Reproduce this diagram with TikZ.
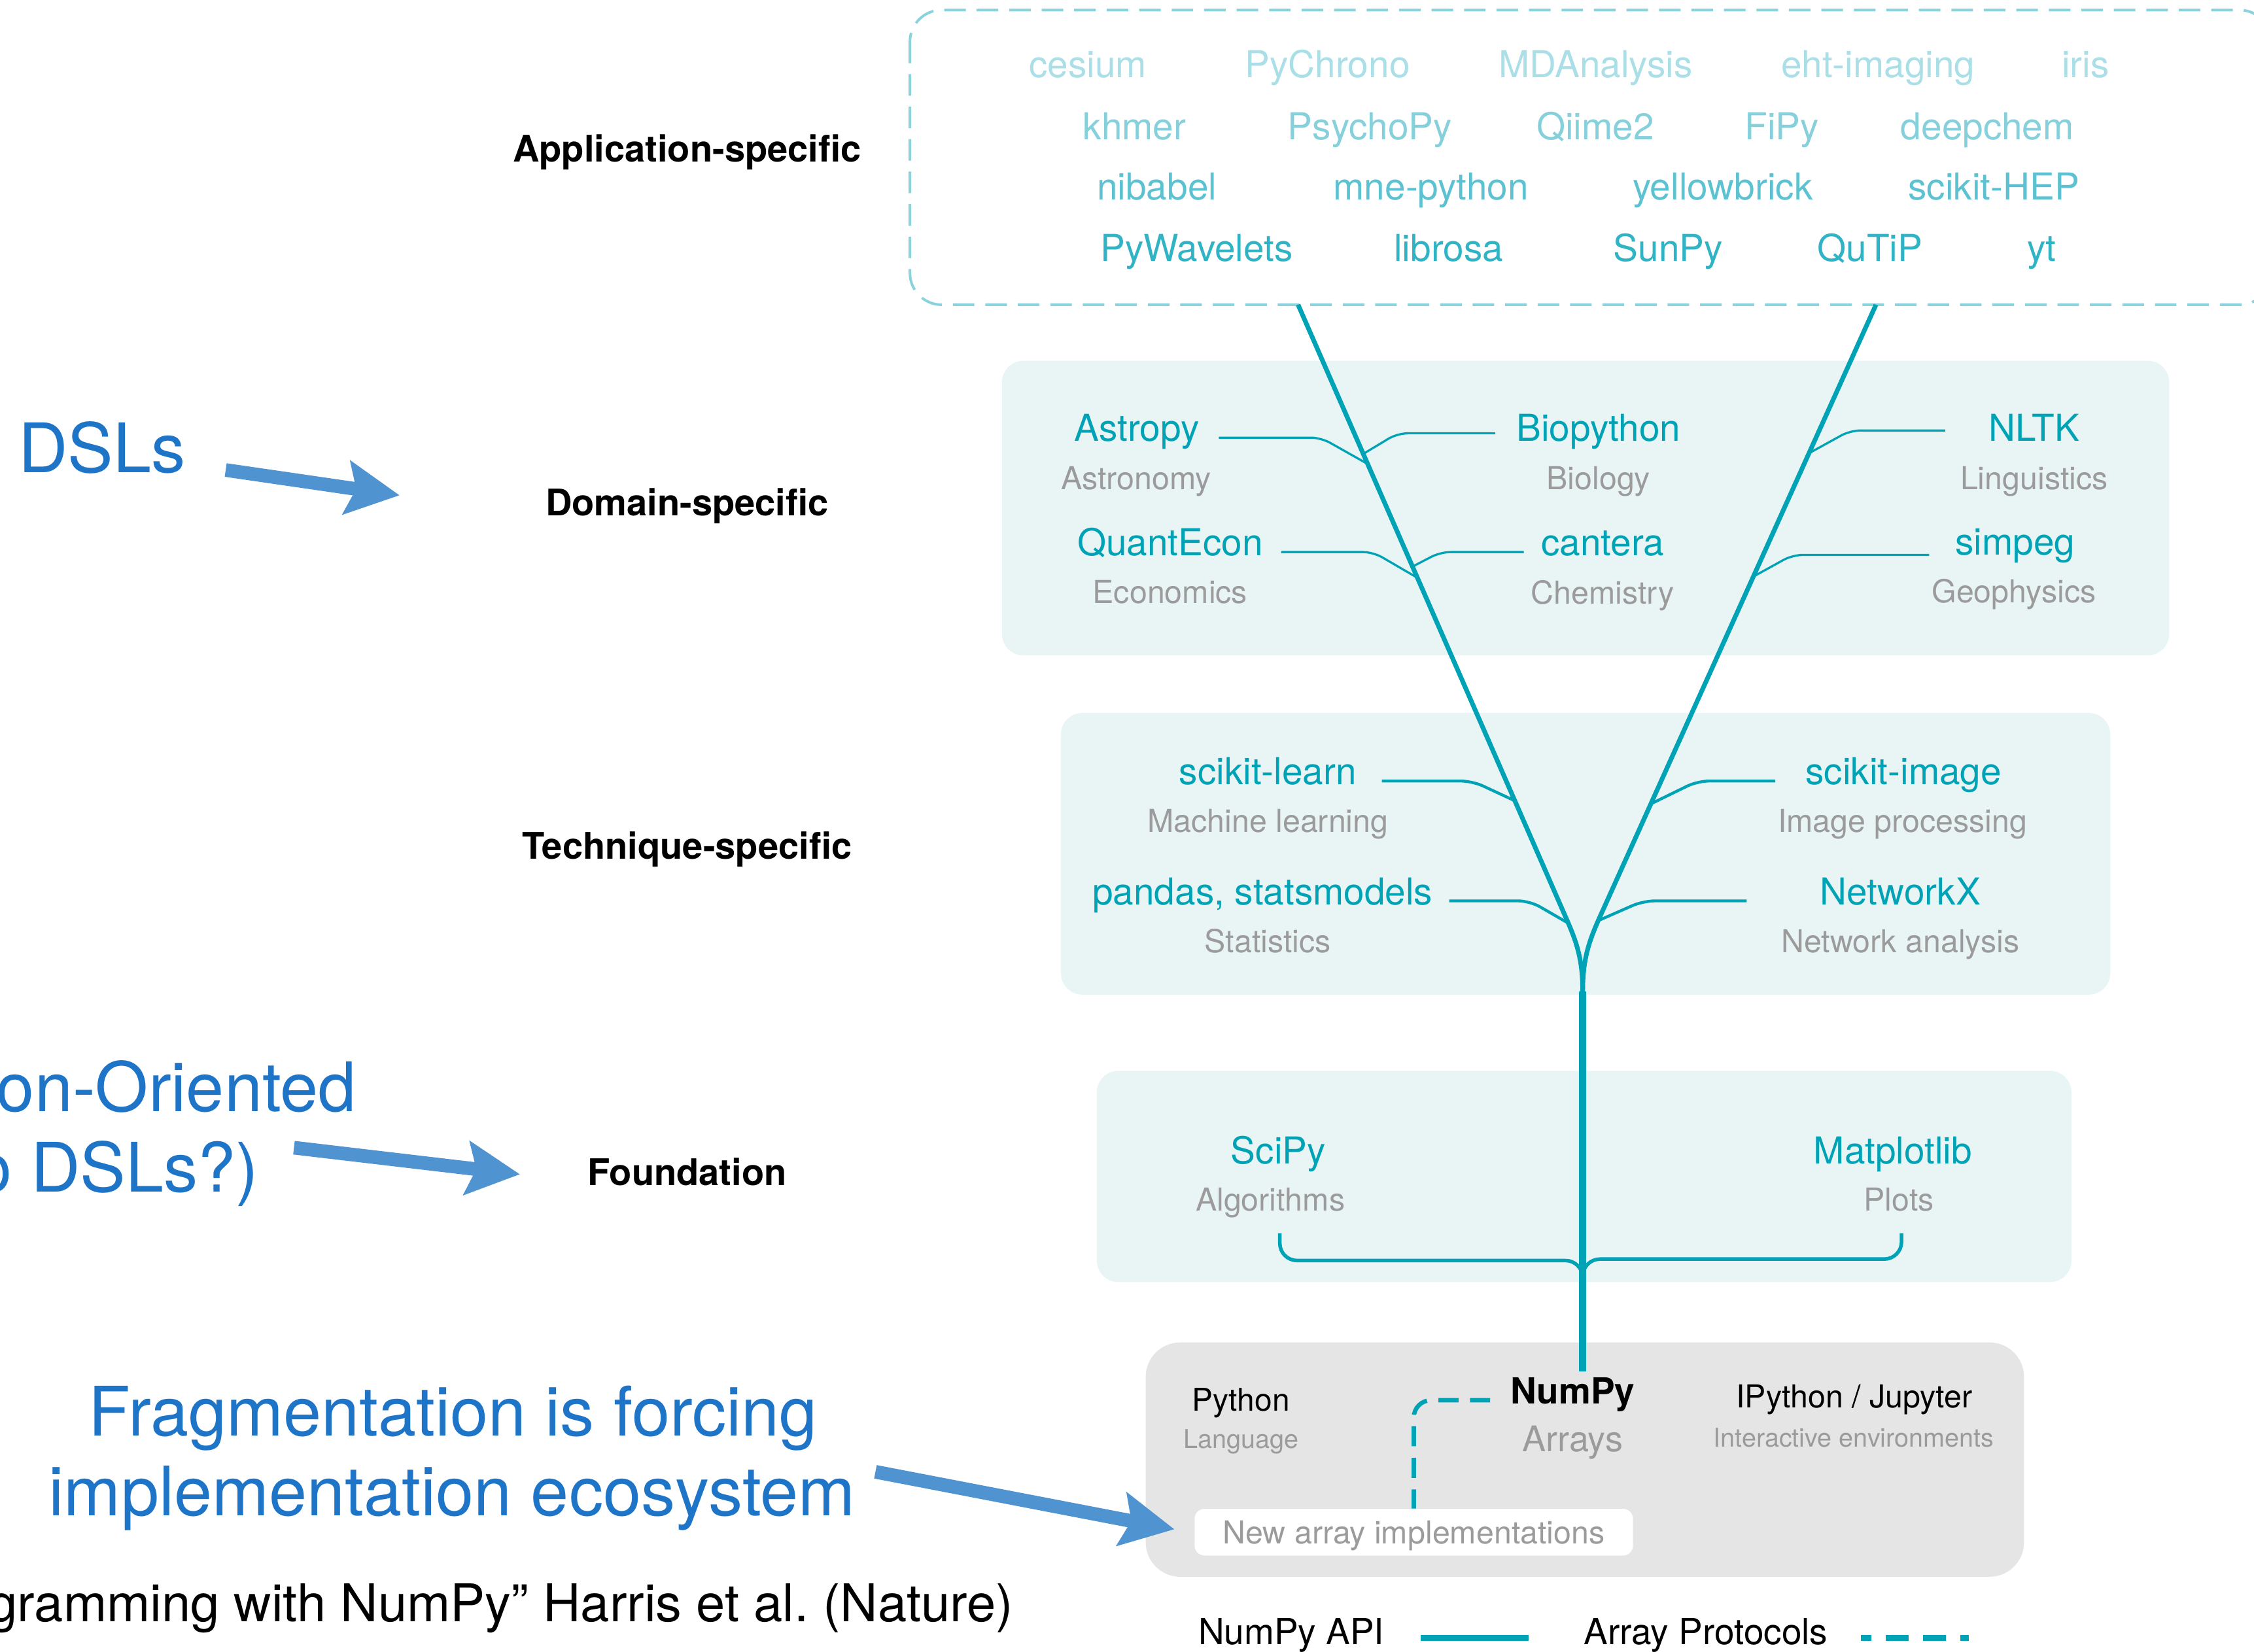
\documentclass[tikz,border=0pt]{standalone}
\usepackage{fontspec}
\setmainfont{TeX Gyre Heros}
\usetikzlibrary{arrows.meta}

\definecolor{npteal}{RGB}{0,163,181}
\definecolor{apprim}{RGB}{138,211,221}
\definecolor{appA}{RGB}{170,223,231}
\definecolor{appB}{RGB}{134,208,219}
\definecolor{appC}{RGB}{92,194,209}
\definecolor{appD}{RGB}{48,179,196}
\definecolor{layerfill}{RGB}{233,245,245}
\definecolor{basefill}{RGB}{229,229,229}
\definecolor{descgray}{RGB}{155,155,155}
\definecolor{noteblue}{RGB}{30,117,199}
\definecolor{arrowblue}{RGB}{80,147,209}

\begin{document}
\begin{tikzpicture}[x=1pt, y=-1pt,
  every node/.style={inner sep=0pt, anchor=base},
  app/.style={font=\fontsize{25.8}{30}\selectfont},
  pkg/.style={font=\fontsize{25.8}{30}\selectfont, text=npteal},
  desc/.style={font=\fontsize{22}{26}\selectfont, text=descgray},
  layer/.style={font=\bfseries\fontsize{25.5}{30}\selectfont},
  note/.style={font=\fontsize{47.5}{56}\selectfont, text=noteblue},
  appframe/.style={draw=apprim, line width=1.8pt, dash pattern=on 15pt off 7.6pt, rounded corners=22pt},
  layerbox/.style={fill=layerfill, rounded corners=15pt},
  basebox/.style={fill=basefill, rounded corners=24pt},
  newbox/.style={fill=white, rounded corners=7pt, minimum width=305pt, minimum height=32.5pt,
    text height=16pt, text depth=0pt, anchor=center, font=\fontsize{22}{26}\selectfont, text=descgray},
  trunk/.style={draw=npteal, line width=4.8pt},
  branch/.style={draw=npteal, line width=3.2pt},
  twig/.style={draw=npteal, line width=1.5pt, rounded corners=7pt},
  twigB/.style={draw=npteal, line width=2pt, rounded corners=8pt},
  stem/.style={draw=npteal, line width=2.5pt, rounded corners=12pt},
  protocol/.style={draw=npteal, line width=3pt, dash pattern=on 14pt off 8pt, rounded corners=12pt},
  hint/.style={draw=arrowblue, line width=9.5pt, arrows={-{Stealth[length=37pt,width=37pt,inset=6.5pt]}}}]

\path[use as bounding box, fill=white] (0,0) rectangle (1568,1149);

% layer backgrounds
\draw[appframe] (633,7) rectangle (1580,212);
\path[layerbox] (697,251) rectangle (1509,456);
\path[layerbox] (738,496) rectangle (1468,692);
\path[layerbox] (763,745) rectangle (1441,892);
\path[basebox] (797,934) rectangle (1408,1097);

% layer names
\node[layer] (applabel) at (478,112.5) {Application-specific};
\node[layer] (domlabel) at (478,358.6) {Domain-specific};
\node[layer] (techlabel) at (478,597.5) {Technique-specific};
\node[layer] (foundlabel) at (478,824.5) {Foundation};

% application-specific packages
\node[app, text=appA] (cesium) at (756.8,54) {cesium};
\node[app, text=appA] (pychrono) at (923.5,54) {PyChrono};
\node[app, text=appA] (mdanalysis) at (1110,54) {MDAnalysis};
\node[app, text=appA] (ehtimaging) at (1306.4,54) {eht-imaging};
\node[app, text=appA] (iris) at (1450.8,54) {iris};
\node[app, text=appB] (khmer) at (789.2,97) {khmer};
\node[app, text=appB] (psychopy) at (953,97) {PsychoPy};
\node[app, text=appB] (qiime) at (1109.7,97) {Qiime2};
\node[app, text=appB] (fipy) at (1239.5,97) {FiPy};
\node[app, text=appB] (deepchem) at (1382.5,97) {deepchem};
\node[app, text=appC] (nibabel) at (804.8,139) {nibabel};
\node[app, text=appC] (mnepython) at (995.5,139) {mne-python};
\node[app, text=appC] (yellowbrick) at (1198.4,139) {yellowbrick};
\node[app, text=appC] (scikithep) at (1387,139) {scikit-HEP};
\node[app, text=appD] (pywavelets) at (832.4,182) {PyWavelets};
\node[app, text=appD] (librosa) at (1007.7,182) {librosa};
\node[app, text=appD] (sunpy) at (1160.4,182) {SunPy};
\node[app, text=appD] (qutip) at (1300.9,182) {QuTiP};
\node[app, text=appD] (yt) at (1420.3,182) {yt};

% domain-specific
\node[pkg] (astropy) at (790.8,307.1) {Astropy};
\node[desc] (astronomy) at (790.3,340.5) {Astronomy};
\node[pkg] (biopython) at (1112,307.1) {Biopython};
\node[desc] (biology) at (1112,340.5) {Biology};
\node[pkg] (nltk) at (1415,307.1) {NLTK};
\node[desc] (linguistics) at (1415,340.5) {Linguistics};
\node[pkg] (quantecon) at (814,386.7) {QuantEcon};
\node[desc] (economics) at (814,419.8) {Economics};
\node[pkg] (cantera) at (1115,386.7) {cantera};
\node[desc] (chemistry) at (1114.8,420.3) {Chemistry};
\node[pkg] (simpeg) at (1401.8,385.9) {simpeg};
\node[desc] (geophysics) at (1401,419.3) {Geophysics};

% technique-specific
\node[pkg] (sklearn) at (882,546) {scikit-learn};
\node[desc] (machine) at (882,579) {Machine learning};
\node[pkg] (pandas) at (878.3,629.4) {pandas, statsmodels};
\node[desc] (statistics) at (882,662.7) {Statistics};
\node[pkg] (skimage) at (1324.2,546) {scikit-image};
\node[desc] (imageproc) at (1323.5,579) {Image processing};
\node[pkg] (networkx) at (1322,629.4) {NetworkX};
\node[desc] (netanalysis) at (1322,662.7) {Network analysis};

% foundation
\node[pkg] (scipy) at (889.3,809.5) {SciPy};
\node[desc] (algorithms) at (883.7,842.4) {Algorithms};
\node[pkg] (matplotlib) at (1316.8,809.5) {Matplotlib};
\node[desc] (plots) at (1321,842.4) {Plots};

% core
\node[font=\fontsize{21.8}{26}\selectfont] (python) at (863.3,981.8) {Python};
\node[font=\fontsize{18}{22}\selectfont, text=descgray] (language) at (863.3,1007.7) {Language};
\node[font=\bfseries\fontsize{25}{30}\selectfont] (numpy) at (1094,976.8) {NumPy};
\node[font=\fontsize{24.6}{30}\selectfont, text=descgray] (arrays) at (1094,1010) {Arrays};
\node[font=\fontsize{22}{26}\selectfont] (ipython) at (1290,979.6) {IPython / Jupyter};
\node[font=\fontsize{18}{22}\selectfont, text=descgray] (interactive) at (1289.5,1006.7) {Interactive environments};
\node[newbox] (newimpl) at (983.5,1066) {New array implementations};

% the tree
\coordinate (root) at (1101,954);
\coordinate (fork) at (1101,690);
\coordinate (appL) at (903,212);
\coordinate (appR) at (1305,212);
\draw[trunk] (root) -- (fork);
\draw[branch] (fork) .. controls (1101,668) and (1097,656) .. (1090,640) -- (appL);
\draw[branch] (fork) .. controls (1101,668) and (1105,656) .. (1112,640) -- (appR);

\coordinate (jAstro) at (950,322);
\coordinate (jBio) at (948,316);
\coordinate (jQuant) at (986,402);
\coordinate (jCant) at (983,394);
\coordinate (jNltk) at (1259,315);
\coordinate (jSimpeg) at (1220,401);
\coordinate (jSkl) at (1053.5,557);
\coordinate (jPandas) at (1090.5,642);
\coordinate (jSki) at (1149,559);
\coordinate (jNx) at (1113,640);
\coordinate (fjoin) at (1101,892);

\draw[twig] ([xshift=13.5pt]astropy.mid east) -- ++(71,0) -- (jAstro);
\draw[twig] ([xshift=-14.6pt,yshift=3pt]biopython.mid west) -- ++(-68,0) -- (jBio);
\draw[twig] ([xshift=12.5pt]quantecon.mid east) -- ++(64,0) -- (jQuant);
\draw[twig] ([xshift=-12pt]cantera.mid west) -- ++(-58,0) -- (jCant);
\draw[twig] ([xshift=-30pt,yshift=5pt]nltk.mid west) -- ++(-66,0) -- (jNltk);
\draw[twig] ([xshift=-18pt,yshift=-2.8pt]simpeg.mid west) -- ++(-95,0) -- (jSimpeg);
\draw[twigB] ([xshift=17.4pt]sklearn.mid east) -- ++(63,0) -- (jSkl);
\draw[twigB] ([xshift=11.4pt]pandas.mid east) -- ++(56,0) -- (jPandas);
\draw[twigB] ([xshift=-21pt]skimage.mid west) -- ++(-54,0) -- (jSki);
\draw[twigB] ([xshift=-51pt]networkx.mid west) -- ++(-72,0) -- (jNx);
\draw[stem] ([xshift=1pt,yshift=-48.5pt]scipy.base) |- ([yshift=15pt]fjoin) -- (fjoin);
\draw[stem] ([xshift=6pt,yshift=-48.5pt]matplotlib.base) |- ([yshift=16pt]fjoin) -- (fjoin);

\draw[protocol] ([xshift=-14pt]numpy.mid west) -| (newimpl.north);

% legend
\node[font=\fontsize{25}{30}\selectfont] (legapi) at (898.3,1144.2) {NumPy API};
\node[font=\fontsize{25}{30}\selectfont] (legproto) at (1186.7,1144.2) {Array Protocols};
\draw[draw=npteal, line width=4.5pt] ([xshift=25.4pt,yshift=2pt]legapi.mid east) -- ++(75,0);
\draw[draw=npteal, line width=4.5pt, dash pattern=on 16pt off 10pt, dash phase=9pt]
  ([xshift=23pt,yshift=2pt]legproto.mid east) -- ++(75,0);

% slide notes
\node[note] (dsls) at (71,328.8) {DSLs};
\node[note, anchor=base east] (oriented) at (248,773.4) {on-Oriented};
\node[note, anchor=base east] (todsls) at (180,829.2) {o DSLs?)};
\node[note] (fragA) at (315.3,999) {Fragmentation is forcing};
\node[note] (fragB) at (314.5,1054.6) {implementation ecosystem};
\node[font=\fontsize{36.2}{42}\selectfont, anchor=base east] (cite) at (705,1128.3) {gramming with NumPy” Harris et al.\ (Nature)};

\coordinate (dslsTail) at (157,327);
\coordinate (dslsTip) at (278,344.6);
\coordinate (orientTail) at (204.5,798.5);
\coordinate (orientTip) at (361.7,817);
\coordinate (fragTail) at (609,1024);
\coordinate (fragTip) at (817,1064);
\draw[hint] (dslsTail) -- (dslsTip);
\draw[hint] (orientTail) -- (orientTip);
\draw[hint] (fragTail) -- (fragTip);

\end{tikzpicture}
\end{document}
